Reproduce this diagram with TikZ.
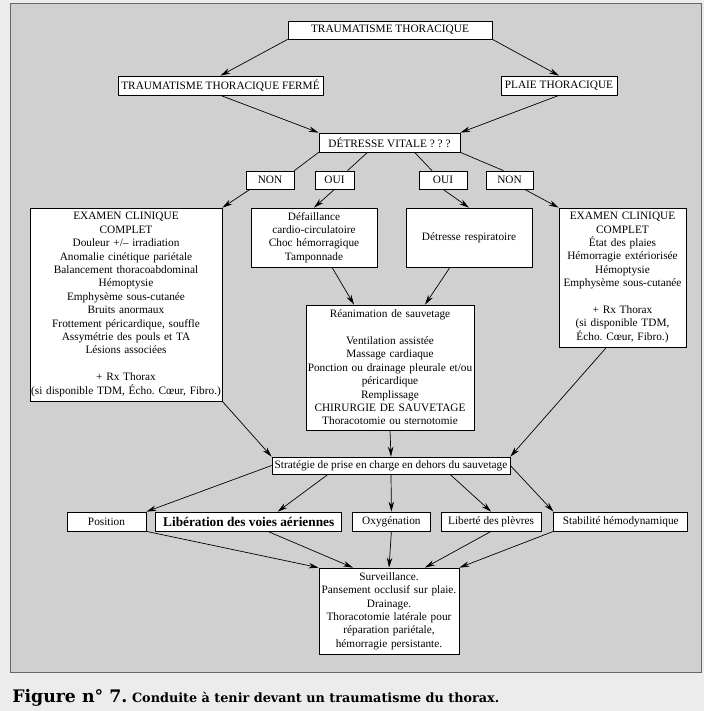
\documentclass[tikz,border=0pt]{standalone}
\usepackage{fontspec}
\setmainfont{Liberation Serif}
\newfontfamily\capfont{DejaVu Serif}
\usetikzlibrary{arrows.meta,positioning}
\definecolor{pagegray}{RGB}{236,236,236}
\definecolor{panelgray}{RGB}{208,208,208}
\definecolor{framegray}{RGB}{105,105,105}

\begin{document}
\frenchspacing
\begin{tikzpicture}[x=1pt,y=-1pt,->,>={Stealth[length=10pt,width=5.5pt]},line width=0.7pt,
    box/.style={draw,fill=white,inner sep=0.5pt,font=\fontsize{11.3}{13.4}\selectfont,minimum height=19pt},
    textbox/.style={box,align=center}]

      \useasboundingbox (0,0) rectangle (704,711);
      \fill[pagegray] (0,0) rectangle (704,711);
      \filldraw[fill=panelgray,draw=framegray,line width=0.8pt] (10,3) rectangle (701,672);

      % top of the tree
      \node[box,minimum width=204pt,minimum height=18pt] (trauma) at (390,30) {TRAUMATISME THORACIQUE};
      \node[box,minimum width=205pt] (ferme) at (220.5,85.5) {TRAUMATISME THORACIQUE FERMÉ};
      \node[box,minimum width=116pt] (plaie) at (559,85.5) {PLAIE THORACIQUE};
      \node[box,minimum width=141pt] (vitale) at (389.5,142.5) {DÉTRESSE VITALE ? ? ?};

      \node[box,minimum width=48pt,minimum height=18pt] (non1) at (270,180) {NON};
      \node[box,minimum width=39pt,minimum height=18pt] (oui1) at (334.5,180) {OUI};
      \node[box,minimum width=48pt,minimum height=18pt] (oui2) at (443,180) {OUI};
      \node[box,minimum width=47pt,minimum height=18pt] (non2) at (509.5,180) {NON};

      % clinical boxes
      \node[textbox,text width=191pt,minimum height=193pt] (exam1) at (126,304.5)
        {EXAMEN CLINIQUE\\COMPLET\\Douleur +/– irradiation\\Anomalie cinétique pariétale\\Balancement thoracoabdominal\\Hémoptysie\\Emphysème sous-cutanée\\Bruits anormaux\\Frottement péricardique, souffle\\Assymétrie des pouls et TA\\Lésions associées\\[13.4pt]+ Rx Thorax\\(si disponible TDM, Écho. Cœur, Fibro.)};
      \node[textbox,text width=125pt,minimum height=59pt] (defail) at (314,237.5)
        {Défaillance\\cardio-circulatoire\\Choc hémorragique\\Tamponnade};
      \node[textbox,text width=125pt,minimum height=59pt] (respi) at (469,237.5) {Détresse respiratoire};
      \node[textbox,text width=126pt,minimum height=139pt] (exam2) at (622.5,277.5)
        {EXAMEN CLINIQUE\\COMPLET\\État des plaies\\Hémorragie extériorisée\\Hémoptysie\\Emphysème sous-cutanée\\[13.4pt]+ Rx Thorax\\(si disponible TDM,\\Écho. Cœur, Fibro.)};
      \node[textbox,text width=167pt,minimum height=125pt] (reanim) at (390,367.5)
        {Réanimation de sauvetage\\[13.4pt]Ventilation assistée\\Massage cardiaque\\Ponction ou drainage pleurale et/ou\\péricardique\\Remplissage\\CHIRURGIE DE SAUVETAGE\\Thoracotomie ou sternotomie};

      \node[box,minimum width=238pt,minimum height=17pt] (strat) at (391,465.5) {Stratégie de prise en charge en dehors du sauvetage};

      % row of measures
      \node[box,minimum width=79pt] (position) at (106.5,521.5) {Position};
      \node[box,minimum width=186pt,font=\fontsize{13.3}{14}\selectfont\bfseries] (liberation) [right=9pt of position] {Libération des voies aériennes};
      \node[box,minimum width=78pt] (oxygene) [right=10pt of liberation] {Oxygénation};
      \node[box,minimum width=100pt] (plevres) [right=10pt of oxygene] {Liberté des plèvres};
      \node[box,minimum width=134pt] (stabilite) [right=12pt of plevres] {Stabilité hémodynamique};

      \node[textbox,text width=139pt,minimum height=86pt] (surv) at (389,611)
        {Surveillance.\\Pansement occlusif sur plaie.\\Drainage.\\Thoracotomie latérale pour\\réparation pariétale,\\hémorragie persistante.};

      % caption
      \node[anchor=base west,inner sep=0pt,font=\capfont\bfseries\fontsize{17.3}{17}\selectfont] (figno) at (12,702) {Figure n° 7.};
      \node[anchor=base west,inner sep=0pt,font=\capfont\bfseries\fontsize{12.8}{13}\selectfont] (figtitle) at ([xshift=4pt]figno.base east) {Conduite à tenir devant un traumatisme du thorax.};

      \path (trauma.south west) edge (ferme.north)
      (trauma.south east) edge (plaie.north)
      (ferme.south) edge (vitale.north west)
      (plaie.south) edge (vitale.north east)
      (vitale.south west) edge[-] (non1.north east)
      ([xshift=-22pt]vitale.south) edge[-] ([xshift=13pt]oui1.north)
      ([xshift=25pt]vitale.south) edge[-] ([xshift=-11pt]oui2.north)
      (vitale.south east) edge[-] ([xshift=-6pt]non2.north);

      \path ([xshift=-20pt]non1.south) edge (exam1.north east)
      (oui1.south) edge (defail.north)
      (oui2.south) edge (respi.north)
      ([xshift=15pt]non2.south) edge (exam2.north west)
      ([xshift=18pt]defail.south) edge ([xshift=-36pt]reanim.north)
      ([xshift=-19pt]respi.south) edge ([xshift=35pt]reanim.north)
      (reanim.south) edge (strat.north)
      (exam1.south east) edge (strat.north west)
      ([xshift=-16pt]exam2.south) edge (strat.north east);

      \path (strat.west) edge (position.north east)
      ([xshift=-63pt]strat.south) edge ([xshift=29pt]liberation.north)
      (strat.south) edge (oxygene.north)
      ([xshift=59pt]strat.south) edge (plevres.north)
      (strat.east) edge (stabilite.north west)
      (position.south east) edge (surv.north west)
      ([xshift=19pt]liberation.south) edge ([xshift=-36pt]surv.north)
      (oxygene.south) edge (surv.north)
      (plevres.south) edge ([xshift=36pt]surv.north)
      (stabilite.south west) edge (surv.north east);
    \end{tikzpicture}
\end{document}
